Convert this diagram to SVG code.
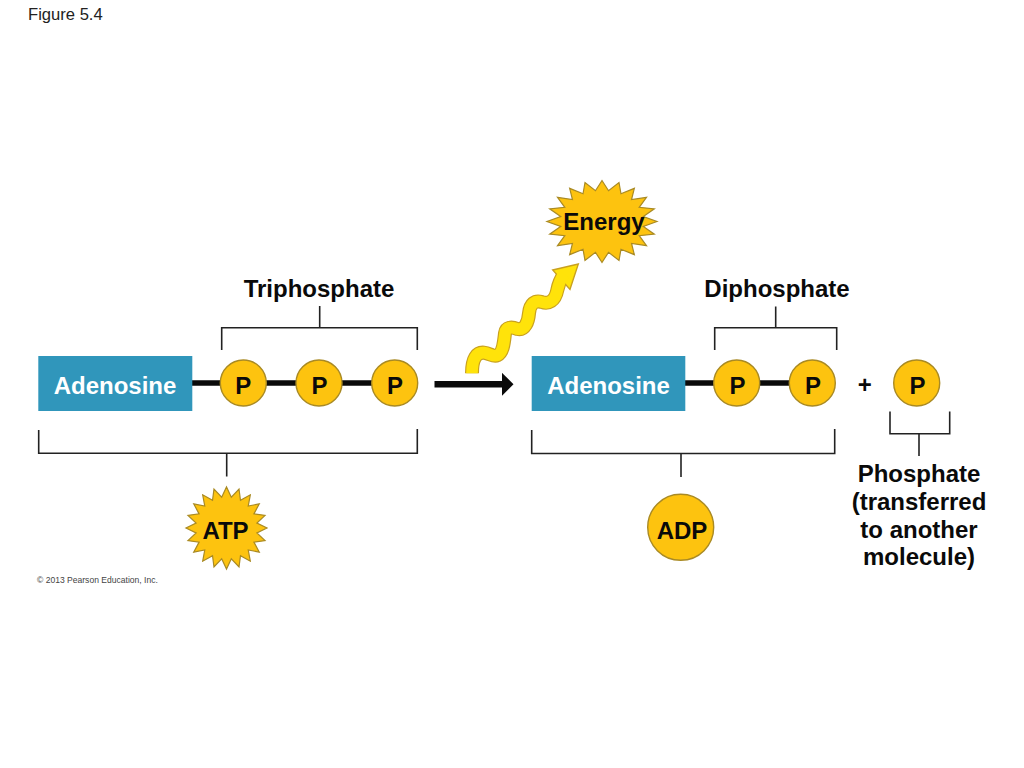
<svg xmlns="http://www.w3.org/2000/svg" xmlns:xlink="http://www.w3.org/1999/xlink" width="1024" height="768" viewBox="0 0 1024 768">
<style>
text{font-family:"Liberation Sans",Arial,sans-serif;font-weight:700;font-size:24px;fill:#0a0a0a;text-anchor:middle}
.small{font-weight:400;text-anchor:start;fill:#222}
.box{fill:#3096bb}
.white{fill:#fff}
.disc{fill:#fdc30f;stroke:#a98a24;stroke-width:1.4}
.star{fill:#fdc30f;stroke:#a98a24;stroke-width:1.2;vector-effect:non-scaling-stroke}
.bond{stroke:#0a0a0a;stroke-width:5.5;fill:none}
.bracket{stroke:#222;stroke-width:1.6;fill:none}
</style>
<defs>
<polygon id="burst" class="star" points="100,0 75.1,11.9 95.1,30.9 67.7,34.5 80.9,58.8 53.7,53.7 58.8,80.9 34.5,67.7 30.9,95.1 11.9,75.1 0,100 -11.9,75.1 -30.9,95.1 -34.5,67.7 -58.8,80.9 -53.7,53.7 -80.9,58.8 -67.7,34.5 -95.1,30.9 -75.1,11.9 -100,0 -75.1,-11.9 -95.1,-30.9 -67.7,-34.5 -80.9,-58.8 -53.7,-53.7 -58.8,-80.9 -34.5,-67.7 -30.9,-95.1 -11.9,-75.1 0,-100 11.9,-75.1 30.9,-95.1 34.5,-67.7 58.8,-80.9 53.7,-53.7 80.9,-58.8 67.7,-34.5 95.1,-30.9 75.1,-11.9"/>
<marker id="head" markerUnits="userSpaceOnUse" markerWidth="12" markerHeight="24" refX="0" refY="11.5" orient="auto"><polygon points="0,0 11.5,11.5 0,23" fill="#0a0a0a"/></marker>
<path id="wave" fill="none" stroke-linejoin="round" d="M96,610 C96,565 110,546 132,548 C150,550 160,562 172,556 C190,548 192,515 195,490 C198,470 215,470 232,477 C255,482 265,455 267,430 C270,400 285,390 305,396 C325,403 345,395 352,360 C355,345 360,330 372,312"/>
</defs>
<rect width="1024" height="768" fill="#fff"/>
<text class="small" x="28" y="19.5" style="font-size:16.6px">Figure 5.4</text>
<text class="small" x="37" y="583" style="font-size:8.55px;fill:#444">© 2013 Pearson Education, Inc.</text>

<g id="connectors">
<path class="bond" d="M192,383H395"/>
<path class="bond" d="M685,383H812"/>
<path d="M434.5,384.3H502" stroke="#0a0a0a" stroke-width="6.5" fill="none" marker-end="url(#head)"/>
<path class="bracket" d="M221.7,350V327.7H417.3V350M319.7,306V327.7"/>
<path class="bracket" d="M714.7,350V327.7H836.7V350M775.7,306.5V327.7"/>
<path class="bracket" d="M38.7,430V453.3H417.3V429M226.7,453.3V476.5"/>
<path class="bracket" d="M531.7,430V453.5H834.7V429M681,453.5V477"/>
<path class="bracket" d="M890,411.5V433.7H949.7V411.5M919,433.7V456"/>
<g id="wavy-arrow" transform="translate(440 170) scale(.33333)">
<use xlink:href="#wave" href="#wave" stroke="#c8a020" stroke-width="42"/>
<polygon points="338,300 415,282 390,358" fill="#ffe30a" stroke="#c8a020" stroke-width="4"/>
<use xlink:href="#wave" href="#wave" stroke="#ffe30a" stroke-width="35"/>
</g>
</g>

<g id="energy"><use xlink:href="#burst" href="#burst" transform="translate(602 221.5) scale(.55 .41)"/><text x="604" y="230">Energy</text></g>
<g id="triphosphate-label"><text x="319" y="297">Triphosphate</text></g>
<g id="diphosphate-label"><text x="777" y="297">Diphosphate</text></g>

<g id="adenosine-1"><rect class="box" x="38.3" y="356" width="154" height="55"/><text class="white" x="115" y="394">Adenosine</text></g>
<g id="p1"><circle class="disc" cx="243.3" cy="383" r="23"/><text x="243.3" y="394">P</text></g>
<g id="p2"><circle class="disc" cx="319" cy="383" r="23"/><text x="319.5" y="394">P</text></g>
<g id="p3"><circle class="disc" cx="394.7" cy="383" r="23"/><text x="395" y="394">P</text></g>

<g id="adenosine-2"><rect class="box" x="531.7" y="356" width="153.6" height="55"/><text class="white" x="608.5" y="394">Adenosine</text></g>
<g id="p4"><circle class="disc" cx="736.7" cy="383" r="23"/><text x="737.5" y="394">P</text></g>
<g id="p5"><circle class="disc" cx="812.3" cy="383" r="23"/><text x="813" y="394">P</text></g>
<g id="plus"><text x="864.7" y="393">+</text></g>
<g id="p6"><circle class="disc" cx="916.7" cy="383" r="23"/><text x="917.5" y="394">P</text></g>

<g id="atp"><use xlink:href="#burst" href="#burst" transform="translate(226.5 528) scale(.405 .41)"/><text x="225.5" y="539">ATP</text></g>
<g id="adp"><circle class="disc" cx="680.7" cy="527.3" r="33"/><text x="682" y="539">ADP</text></g>
<g id="phosphate-label"><text x="919" y="482">Phosphate</text><text x="919" y="510">(transferred</text><text x="919" y="537.5">to another</text><text x="919" y="565">molecule)</text></g>
</svg>
